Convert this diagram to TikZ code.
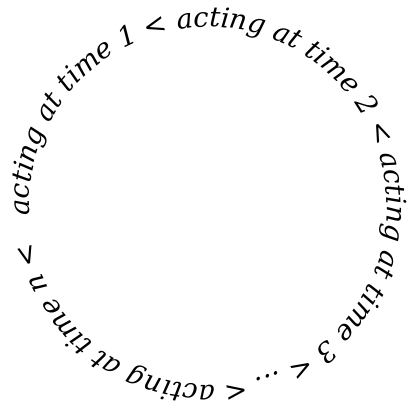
\documentclass[tikz,border=0pt]{standalone}
\usepackage{fontspec}
\setmainfont{DejaVu Serif}
\usetikzlibrary{decorations.text}
\tikzset{
  % text round the ring
  ringtext/.style={decorate,decoration={text along path,
      text align={fit to path stretching spaces},
      text={|\itshape\fontsize{27.4}{31}\selectfont|#1}}},
}
\begin{document}
\begin{tikzpicture}[x=1pt,y=1pt]
\useasboundingbox (0,0) rectangle (412,408);
  \coordinate (c) at (208,202);
  \path[ringtext={acting at time 1 < acting at time 2 < acting at time 3 < ... < acting at time n <}]
    (c) ++(183:179) arc[start angle=183,end angle=-166,radius=179];
\end{tikzpicture}
\end{document}
